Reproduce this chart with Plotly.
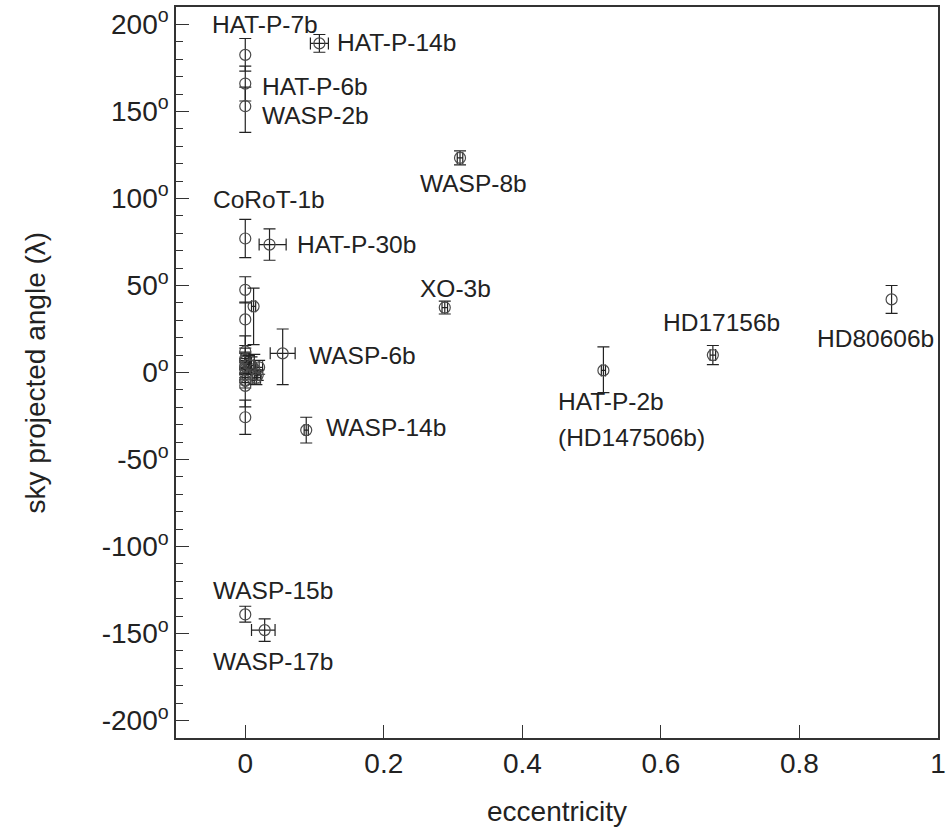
import plotly.graph_objects as go

# Spin-orbit angle vs orbital eccentricity for transiting planets
# Planets measured with an eccentricity uncertainty (drawn with horizontal bars)
ecc_names = ["HAT-P-14b", "WASP-8b", "HAT-P-30b", "XO-3b", "WASP-6b", "WASP-14b",
             "HAT-P-2b", "HD17156b", "WASP-17b", "", "", "", "", "", "", ""]
ecc_e = [0.107, 0.310, 0.035, 0.288, 0.054, 0.088, 0.517, 0.675, 0.028,
         0.012, 0.009, 0.013, 0.016, 0.005, 0.018, 0.020]
ecc_e_plus = [0.013, 0.004, 0.024, 0.004, 0.018, 0.003, 0.003, 0.004, 0.015,
              0.003, 0.003, 0.004, 0.006, 0.003, 0.004, 0.005]
ecc_e_minus = [0.013, 0.004, 0.015, 0.004, 0.018, 0.003, 0.003, 0.004, 0.019,
               0.003, 0.003, 0.004, 0.006, 0.003, 0.004, 0.005]
ecc_lam = [189.1, 123.3, 73.5, 37.3, 11.0, -33.1, 1.2, 10.0, -148.0,
           38.0, 4.0, 1.9, -3.0, 4.6, -1.5, 3.0]
ecc_lam_up = [5.1, 4.0, 9.0, 3.7, 14.0, 7.4, 13.5, 5.5, 6.5,
              10.5, 5.0, 8.5, 4.0, 5.2, 3.0, 4.0]
ecc_lam_dn = [5.1, 4.0, 9.0, 3.7, 18.0, 7.4, 12.8, 5.5, 6.5,
              22.0, 5.0, 8.5, 4.0, 5.2, 3.0, 4.0]

# Planets on circular orbits (or without an eccentricity uncertainty)
circ_names = ["HAT-P-7b", "HAT-P-6b", "WASP-2b", "CoRoT-1b", "HD80606b", "WASP-15b",
              "", "", "", "", "", "", "", "", "", "", "", "", "", ""]
circ_e = [0.0, 0.0, 0.0, 0.0, 0.933, 0.0,
          0.0, 0.0, 0.0, 0.0, 0.0, 0.0, 0.0, 0.0, 0.0, 0.0, 0.0, 0.0, 0.0, 0.0]
circ_lam = [182.5, 166.0, 153.0, 77.0, 42.0, -139.0,
            47.5, 30.5, -0.85, -4.4, 1.9, 3.7, 6.3, 3.3, 7.2, 12.1, -7.7, -25.7, 8.0, -4.9]
circ_lam_up = [9.4, 10.0, 11.0, 11.0, 8.0, 4.7,
               7.5, 10.0, 0.3, 1.4, 6.1, 2.1, 4.7, 3.5, 4.5, 9.0, 10.0, 9.8, 6.0, 4.0]
circ_lam_dn = [9.4, 10.0, 15.0, 11.0, 8.0, 4.4,
               7.5, 15.0, 0.3, 1.4, 6.1, 2.1, 4.7, 3.5, 4.5, 9.0, 12.0, 9.8, 6.0, 4.0]

# Label placement (data coordinates, text anchored on its left edge)
label_text = ["HAT-P-7b", "HAT-P-14b", "HAT-P-6b", "WASP-2b", "WASP-8b", "CoRoT-1b",
              "HAT-P-30b", "XO-3b", "HD17156b", "HD80606b", "WASP-6b", "WASP-14b",
              "HAT-P-2b", "(HD147506b)", "WASP-15b", "WASP-17b"]
label_x = [-0.051, 0.129, 0.021, 0.021, 0.249, -0.050,
           0.072, 0.249, 0.600, 0.823, 0.089, 0.114,
           0.449, 0.449, -0.050, -0.050]
label_y = [200.0, 189.4, 164.2, 147.6, 108.6, 99.4,
           73.6, 48.4, 29.0, 19.8, 10.0, -31.8,
           -16.9, -37.5, -125.0, -166.0]

y_ticks = [200, 150, 100, 50, 0, -50, -100, -150, -200]
y_ticktext = [f"{v}<sup>o</sup>" for v in y_ticks]

FONT = "Liberation Sans, Arial, Helvetica, sans-serif"
INK = "#222222"
MARK = "#4a4a4a"

marker_style = dict(symbol="circle-open", size=11, color=MARK, line=dict(width=1.2, color=MARK))
bar_style = dict(color=INK, thickness=1.2, width=6)

fig = go.Figure()
fig.add_trace(go.Scatter(
    x=circ_e, y=circ_lam, mode="markers", marker=marker_style,
    error_y=dict(type="data", symmetric=False, array=circ_lam_up, arrayminus=circ_lam_dn, **bar_style),
    text=circ_names, hoverinfo="text+x+y", showlegend=False,
))
fig.add_trace(go.Scatter(
    x=ecc_e, y=ecc_lam, mode="markers", marker=marker_style,
    error_y=dict(type="data", symmetric=False, array=ecc_lam_up, arrayminus=ecc_lam_dn, **bar_style),
    error_x=dict(type="data", symmetric=False, array=ecc_e_plus, arrayminus=ecc_e_minus, **bar_style),
    text=ecc_names, hoverinfo="text+x+y", showlegend=False,
))

for t, x, y in zip(label_text, label_x, label_y):
    fig.add_annotation(x=x, y=y, text=t, showarrow=False, xanchor="left", yanchor="middle",
                       font=dict(family=FONT, size=24.5, color=INK))

# Axis titles
fig.add_annotation(xref="paper", yref="paper", x=0.5, y=-0.101, text="eccentricity",
                   showarrow=False, xanchor="center", yanchor="middle",
                   font=dict(family=FONT, size=28, color=INK))
fig.add_annotation(xref="paper", yref="paper", x=-0.185, y=0.5, text="sky projected angle (λ)",
                   showarrow=False, textangle=-90, xanchor="center", yanchor="middle",
                   font=dict(family=FONT, size=28, color=INK))

fig.update_xaxes(range=[-0.1, 1.0], tickmode="linear", tick0=0, dtick=0.2,
                 showgrid=False, zeroline=False, showline=True, linecolor="#333333", linewidth=1.5,
                 ticks="inside", ticklen=13, tickwidth=1.3, tickcolor="#333333", mirror=True,
                 tickfont=dict(family=FONT, size=28, color=INK))
fig.update_yaxes(range=[-210, 210], tickmode="array", tickvals=y_ticks, ticktext=y_ticktext,
                 showgrid=False, zeroline=False, showline=True, linecolor="#333333", linewidth=1.5,
                 ticks="inside", ticklen=13, tickwidth=1.3, tickcolor="#333333", mirror=True,
                 minor=dict(dtick=10, ticks="inside", ticklen=7, tickwidth=1.2, tickcolor="#333333"),
                 tickfont=dict(family=FONT, size=28, color=INK))

fig.update_layout(
    width=949, height=829,
    margin=dict(l=176, r=11, t=7, b=91),
    paper_bgcolor="white", plot_bgcolor="white",
    font=dict(family=FONT, color=INK),
    template="none",
)

fig.write_html("out.html")
